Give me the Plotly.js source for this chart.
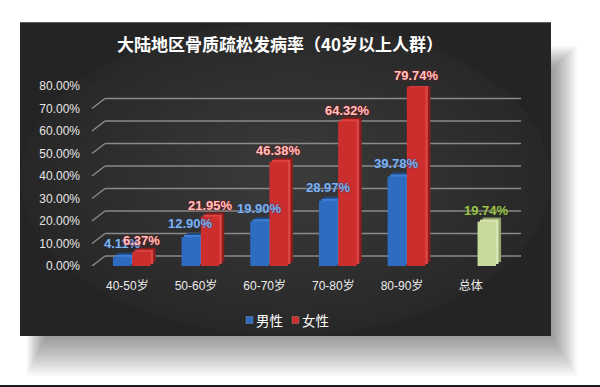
<!DOCTYPE html>
<html>
<head>
<meta charset="utf-8">
<script src="https://cdn.plot.ly/plotly-3.0.1.min.js"></script>
<style>html,body{margin:0;padding:0;background:#fff}#chart{width:600px;height:387px}</style>
</head>
<body>
<div id="chart"></div>
<script>
// ---- data ----
const categories = ['40-50岁', '50-60岁', '60-70岁', '70-80岁', '80-90岁', '总体'];
const maleValues   = [0.0411, 0.1290, 0.1990, 0.2897, 0.3978, null];
const femaleValues = [0.0637, 0.2195, 0.4638, 0.6432, 0.7974, null];
const totalValues  = [null, null, null, null, null, 0.1974];
const yTicks = [0, 0.1, 0.2, 0.3, 0.4, 0.5, 0.6, 0.7, 0.8];
const seriesNames = ['男性', '女性', '总体'];

// ---- geometry (pixels) ----
const W = 600, H = 387;
const M = {l: 93, r: 95, t: 86, b: 121};
const PW = W - M.l - M.r, PH = H - M.t - M.b;
const YMAX = 0.8;
const catPx = PW / categories.length;
const px2x = p => (p - M.l) / PW;          // pixel x -> paper x
const px2y = p => (H - M.b - p) / PH;      // pixel y -> paper y
const dyVal = 10 / PH * YMAX;              // back wall vertical shift in data units
const depthX = 5 / catPx;                  // bar depth in category units
const depthY = 4 / PH * YMAX;

const font = '"Liberation Sans", "Noto Sans CJK SC", sans-serif';
const cjk = '"Noto Sans CJK SC", "Liberation Sans", sans-serif';

const bw = 0.27;
const series = [
  {vals: maleValues,   name: seriesNames[0], front: '#2e6cc2', top: '#3f80d6', side: '#1c4a86', off: -0.21, label: '#7fb0ec', glow: '0 0 2px #1d3f70', dy: 13},
  {vals: femaleValues, name: seriesNames[1], front: '#cc2e2e', top: '#dc4444', side: '#8a1c1c', off: 0.07,  label: '#fbc4c4', glow: '0 0 2px #c00000', dy: 11},
  {vals: totalValues,  name: seriesNames[2], front: '#c8da9c', top: '#d8e6b4', side: '#93a56b', off: 0.10,  label: '#9cc150', glow: '0 0 2px #2a3a10', dy: 11}
];

const traces = [];
// side / back face
series.forEach(s => traces.push({
  type: 'bar', x: categories, y: s.vals, base: depthY,
  offset: s.off + depthX, width: bw,
  marker: {color: s.side, line: {width: 0}},
  showlegend: false, hoverinfo: 'skip'
}));
// top face (half depth)
series.forEach(s => traces.push({
  type: 'bar', x: categories, y: s.vals, base: depthY * 0.5,
  offset: s.off + depthX * 0.5, width: bw,
  marker: {color: s.top, line: {width: 0}},
  showlegend: false, hoverinfo: 'skip'
}));
// front face
series.forEach(s => traces.push({
  type: 'bar', x: categories, y: s.vals, name: s.name,
  offset: s.off, width: bw,
  marker: {color: s.front, line: {width: 0}},
  showlegend: false, hoverinfo: 'skip'
}));

// data labels (drawn above all bars)
const annotations = [];
series.forEach(s => {
  s.vals.forEach((v, i) => {
    if (v == null) return;
    annotations.push({
      x: categories[i], y: v, xref: 'x', yref: 'y',
      text: (v * 100).toFixed(2) + '%', showarrow: false,
      xshift: (s.off + bw / 2) * catPx, yshift: s.dy,
      yanchor: 'middle', xanchor: 'center',
      font: {family: font, size: 13, color: s.label, weight: 'bold', shadow: s.glow}
    });
  });
});

// ---- decoration shapes ----
const shapes = [];
// soft drop shadow under / right of panel
for (let i = 1; i <= 16; i++) {
  shapes.push({type: 'rect', xref: 'paper', yref: 'paper', layer: 'below',
    x0: px2x(46 - i * 1.2), x1: px2x(551 + i * 1.6),
    y0: px2y(336 + i * 2.5), y1: px2y(70 - i * 1.5),
    fillcolor: 'rgba(0,0,0,0.026)', line: {width: 0}});
}
// panel
shapes.push({type: 'rect', xref: 'paper', yref: 'paper', layer: 'below',
  x0: px2x(20), x1: px2x(551), y0: px2y(336), y1: px2y(22),
  fillcolor: '#242424', line: {width: 0}});
// smooth radial glow
const cx = 290, cy = 175;
for (let i = 0; i < 22; i++) {
  const rx = 300 - i * 13, ry = 190 - i * 8.5;
  shapes.push({type: 'circle', xref: 'paper', yref: 'paper', layer: 'below',
    x0: px2x(Math.max(20, cx - rx)), x1: px2x(Math.min(551, cx + rx)),
    y0: px2y(Math.min(336, cy + ry)), y1: px2y(Math.max(22, cy - ry)),
    fillcolor: 'rgba(255,255,255,0.0095)', line: {width: 0}});
}
// panel top light edge
shapes.push({type: 'line', xref: 'paper', yref: 'paper', layer: 'below',
  x0: px2x(20), x1: px2x(551), y0: px2y(22.5), y1: px2y(22.5),
  line: {color: 'rgba(255,255,255,0.25)', width: 1}});
// 3D gridlines: back wall + diagonal
yTicks.forEach(t => {
  shapes.push({type: 'line', xref: 'paper', yref: 'y', layer: 'below',
    x0: px2x(105), x1: px2x(521), y0: t + dyVal, y1: t + dyVal,
    line: {color: '#8a8a8a', width: 1.5}});
  shapes.push({type: 'line', xref: 'paper', yref: 'y', layer: 'below',
    x0: px2x(92), x1: px2x(105), y0: t, y1: t + dyVal,
    line: {color: '#8a8a8a', width: 1.5}});
});
// bottom dark line of the image
shapes.push({type: 'line', xref: 'paper', yref: 'paper', layer: 'below',
  x0: px2x(0), x1: px2x(600), y0: px2y(386), y1: px2y(386),
  line: {color: '#1a1a1a', width: 2}});

// ---- legend (compact, like the original) ----
const legendItems = [
  {name: seriesNames[0], color: series[0].front, x: 246},
  {name: seriesNames[1], color: series[1].front, x: 292}
];
const legendY = 320;
legendItems.forEach(it => {
  shapes.push({type: 'rect', xref: 'paper', yref: 'paper', layer: 'above',
    x0: px2x(it.x), x1: px2x(it.x + 7), y0: px2y(legendY + 3.5), y1: px2y(legendY - 3.5),
    fillcolor: it.color, line: {color: 'rgba(255,255,255,0.35)', width: 0.5}});
  annotations.push({xref: 'paper', yref: 'paper', x: px2x(it.x + 8), y: px2y(legendY),
    xanchor: 'left', yanchor: 'middle', showarrow: false, text: it.name,
    font: {family: cjk, size: 13.5, color: '#ffffff'}});
});

const layout = {
  width: W, height: H,
  margin: M,
  paper_bgcolor: '#ffffff', plot_bgcolor: 'rgba(0,0,0,0)',
  barmode: 'overlay',
  title: {text: '大陆地区骨质疏松发病率（40岁以上人群）',
    font: {family: cjk, size: 17, color: '#ffffff', weight: 'bold'},
    x: 280 / W, xanchor: 'center', xref: 'container',
    y: 1 - 45 / H, yanchor: 'middle', yref: 'container'},
  xaxis: {type: 'category', range: [-0.5, categories.length - 0.5],
    showgrid: false, zeroline: false, showline: false, ticks: '',
    tickfont: {family: font, size: 12, color: '#ececec'},
    ticklabelstandoff: 11, fixedrange: true},
  yaxis: {range: [0, YMAX], tickvals: yTicks, tickformat: '.2%',
    showgrid: false, zeroline: false, showline: false, ticks: '',
    tickfont: {family: font, size: 12, color: '#e6e6e6'},
    ticklabelstandoff: 12, fixedrange: true},
  shapes: shapes,
  annotations: annotations,
  showlegend: false
};

Plotly.newPlot('chart', traces, layout, {displayModeBar: false, staticPlot: true});
</script>
</body>
</html>
